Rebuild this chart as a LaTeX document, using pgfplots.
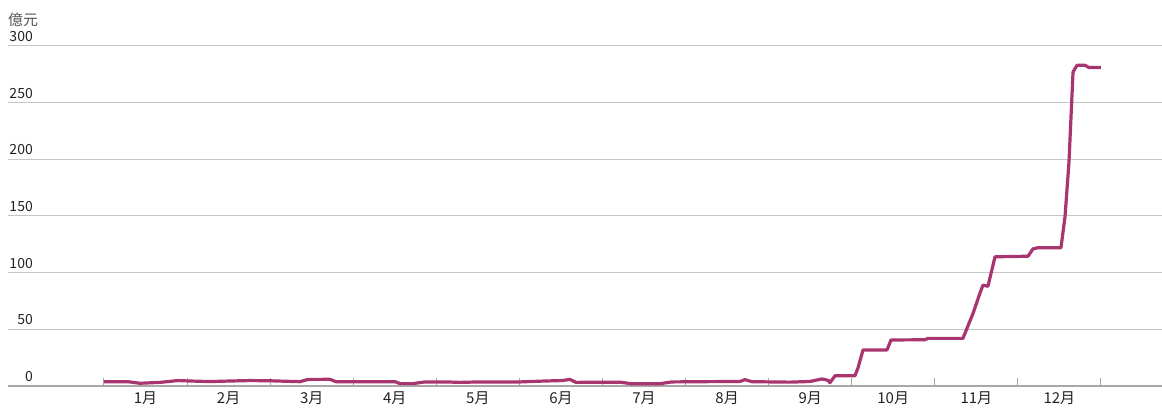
\documentclass[border=0pt]{standalone}
\usepackage{fontspec}
\setmainfont{Noto Sans CJK TC}
\usepackage{pgfplots}
\pgfplotsset{compat=1.18}
\definecolor{linec}{HTML}{A8356F}
\definecolor{gridc}{HTML}{C6C6C6}
\definecolor{axisc}{HTML}{A8A8A8}
\definecolor{txt}{HTML}{222222}
\definecolor{txtb}{HTML}{555555}
\pgfplotstableread{
m v
0.000 3.8
0.289 3.8
0.433 2.4
0.674 3.2
0.891 4.8
1.035 4.4
1.276 3.9
1.517 4.4
1.757 4.8
1.998 4.6
2.359 3.8
2.455 5.8
2.720 5.9
2.792 3.8
3.503 3.8
3.563 2.1
3.719 2.1
3.864 3.6
4.104 3.6
4.285 3.2
4.526 3.6
5.007 3.6
5.308 4.4
5.513 4.8
5.609 5.8
5.681 3.2
6.211 3.4
6.355 1.9
6.692 2.0
6.836 3.6
7.173 3.8
7.655 4.0
7.715 5.6
7.800 3.8
8.257 3.4
8.498 4.0
8.642 6.2
8.714 5.0
8.738 2.9
8.799 9.0
9.039 9.0
9.076 16
9.136 31.8
9.425 31.8
9.473 40.6
9.882 40.8
9.918 42
10.339 42
10.460 64
10.544 82
10.580 89
10.640 88
10.725 114
11.122 114.5
11.182 121
11.242 122
11.519 122
11.567 149
11.615 197
11.664 277
11.712 283
11.808 283
11.856 281
12.000 281
}\datatab
\begin{document}
\begin{tikzpicture}
\begin{axis}[
  at={(0,0)}, anchor=south west,
  scale only axis, width=1154bp, height=340bp,
  xmin=-1.1555, xmax=12.735, ymin=0, ymax=300,
  axis x line=bottom, axis y line=left,
  axis line style={-},
  y axis line style={draw=none},
  x axis line style={axisc, line width=2bp},
  ytick={0,50,...,300},
  ymajorgrids, grid style={gridc, line width=1bp},
  ytick style={draw=none},
  yticklabel style={anchor=south east, inner sep=0pt, xshift=25bp, yshift=4bp, font=\fontsize{14bp}{16bp}\selectfont, text=txt},
  /pgf/number format/assume math mode=true,
  xtick={0,...,12}, xticklabels={},
  xtick style={axisc, line width=1bp},
  tick align=inside, major tick length=8bp,
  extra x ticks={0.5,1.5,...,11.5},
  extra x tick labels={1月,2月,3月,4月,5月,6月,7月,8月,9月,10月,11月,12月},
  extra x tick style={major tick length=0pt, tick style={draw=none}, xticklabel style={anchor=north, inner sep=0pt, yshift=-5bp, font=\fontsize{15bp}{17bp}\selectfont, text=txt}},
  clip=false,
]
\addplot[linec, line width=3.2bp, line join=round] table[x=m, y=v] {\datatab};
\node[anchor=south west, inner sep=0pt, text=txtb, font=\fontsize{15bp}{17bp}\selectfont] at (rel axis cs:0,1) [yshift=19bp] {億元};
\end{axis}
\pgfresetboundingbox
\path (-8bp,-24bp) rectangle (1154bp,386bp);
\end{tikzpicture}
\end{document}
